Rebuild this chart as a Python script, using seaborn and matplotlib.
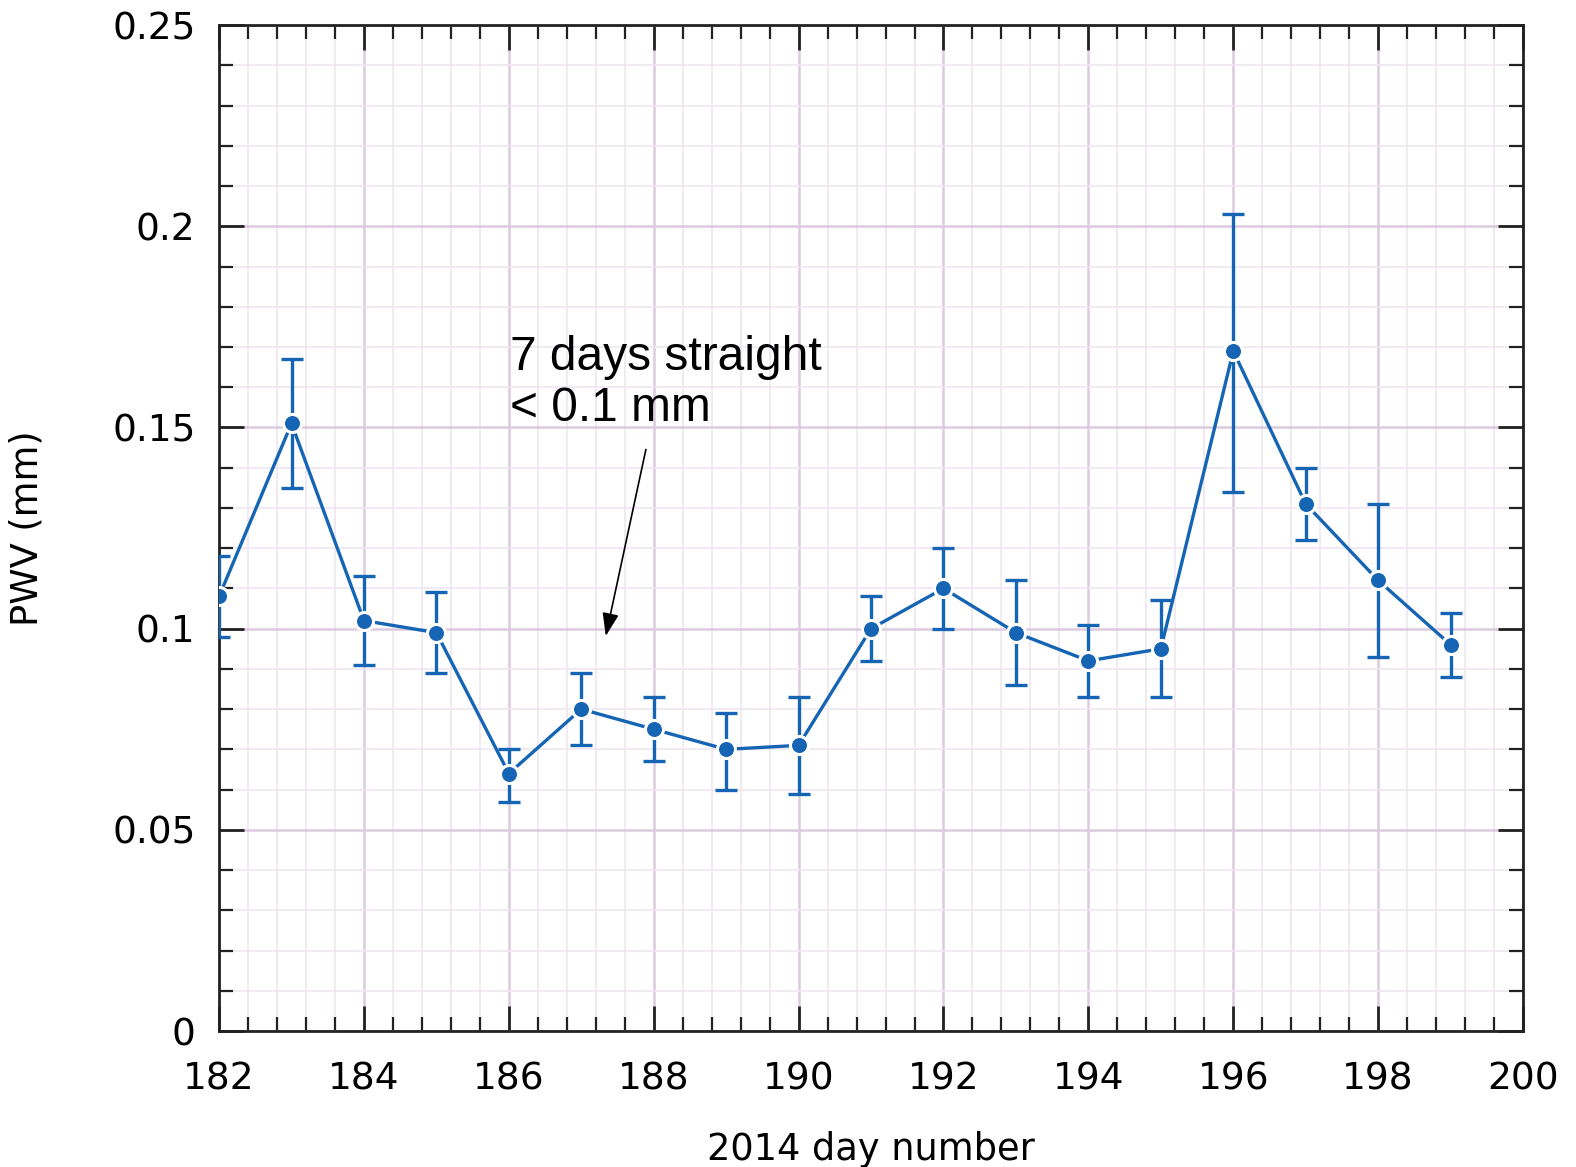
import matplotlib
matplotlib.use("Agg")
import matplotlib.pyplot as plt
import seaborn as sns
import numpy as np
import pandas as pd
from matplotlib.ticker import MultipleLocator

days = [182, 183, 184, 185, 186, 187, 188, 189, 190, 191, 192, 193, 194, 195, 196, 197, 198, 199]
pwv = [0.108, 0.151, 0.102, 0.099, 0.064, 0.080, 0.075, 0.070, 0.071, 0.100, 0.110, 0.099, 0.092, 0.095, 0.169, 0.131, 0.112, 0.096]
err_upper = [0.118, 0.167, 0.113, 0.109, 0.070, 0.089, 0.083, 0.079, 0.083, 0.108, 0.120, 0.112, 0.101, 0.107, 0.203, 0.140, 0.131, 0.104]
err_lower = [0.098, 0.135, 0.091, 0.089, 0.057, 0.071, 0.067, 0.060, 0.059, 0.092, 0.100, 0.086, 0.083, 0.083, 0.134, 0.122, 0.093, 0.088]
ytick_vals = [0, 0.05, 0.1, 0.15, 0.2, 0.25]
ytick_labels = ['0', '0.05', '0.1', '0.15', '0.2', '0.25']

df = pd.DataFrame({"day": days, "pwv": pwv})

sns.set_style("white")
plt.rcParams['font.family'] = ['DejaVu Sans']
plt.rcParams['text.color'] = 'black'
plt.rcParams['axes.labelcolor'] = 'black'
plt.rcParams['xtick.color'] = 'black'
plt.rcParams['ytick.color'] = 'black'

fig = plt.figure(figsize=(15.76, 11.67), dpi=100)
ax = fig.add_axes([0.139, 0.1165, 0.8274, 0.862])

color = '#1565b4'
yerr = np.array([np.array(pwv) - np.array(err_lower), np.array(err_upper) - np.array(pwv)])
ax.errorbar(days, pwv, yerr=yerr, fmt='none', ecolor=color, elinewidth=2.4,
            capsize=8, capthick=2.4, zorder=3)
sns.lineplot(data=df, x="day", y="pwv", ax=ax, color=color, lw=2.4, marker='o',
             markersize=13, markeredgecolor='white', markeredgewidth=2.2, zorder=4)

ax.set_xlim(182, 200)
ax.set_ylim(0, 0.25)
ax.xaxis.set_major_locator(MultipleLocator(2))
ax.xaxis.set_minor_locator(MultipleLocator(0.4))
ax.set_yticks(ytick_vals)
ax.set_yticklabels(ytick_labels)
ax.yaxis.set_minor_locator(MultipleLocator(0.01))

ax.grid(True, which='major', color='#dccbdf', lw=1.8, zorder=0)
ax.grid(True, which='minor', color='#f0e6f1', lw=1.2, zorder=0)
ax.set_axisbelow(True)

ax.tick_params(which='both', direction='in', top=True, right=True, bottom=True, left=True,
               color='#222222', labelcolor='black')
ax.tick_params(which='major', length=18, width=2, labelsize=27)
ax.tick_params(axis='x', which='major', pad=22)
ax.tick_params(axis='y', which='major', pad=17)
ax.tick_params(which='minor', length=10, width=1.6)
for sp in ax.spines.values():
    sp.set_linewidth(2)
    sp.set_color('#222222')

ax.set_xlabel('2014 day number', fontsize=26.5, labelpad=24, color='black')
ax.set_ylabel('PWV (mm)', fontsize=26.5, color='black')
ax.yaxis.set_label_coords(-0.133, 0.5)

ax.annotate('7 days straight\n< 0.1 mm', xy=(187.33, 0.0975), xytext=(186.02, 0.173),
            fontsize=34.5, family='Liberation Sans', va='top', ha='left', linespacing=1.16,
            color='black', zorder=5)
ax.annotate('', xy=(187.33, 0.0975), xytext=(187.9, 0.1452),
            arrowprops=dict(arrowstyle='-|>,head_length=1.4,head_width=0.5', color='black', lw=1.2),
            zorder=5)

fig.savefig('out.png', dpi=100)
